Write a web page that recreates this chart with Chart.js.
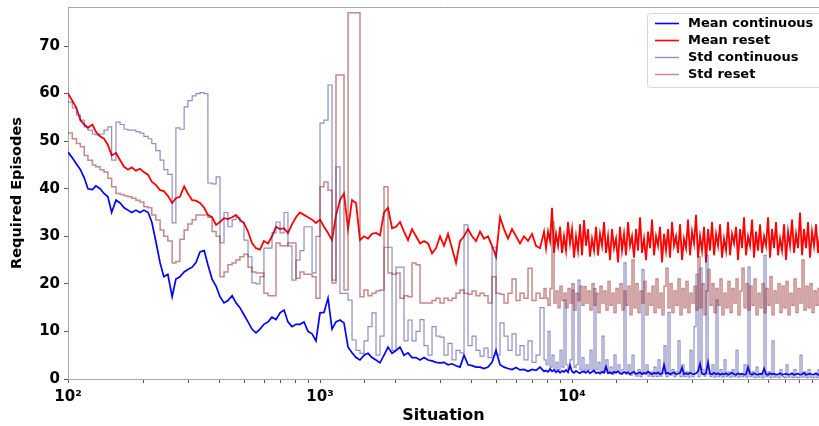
<!DOCTYPE html>
<html>
<head>
<meta charset="utf-8">
<script src="https://cdn.jsdelivr.net/npm/chart.js@4/dist/chart.umd.min.js"></script>
<style>
  html, body { margin: 0; padding: 0; background: #fff; }
  #wrap { width: 819px; height: 426px; }
</style>
</head>
<body>
<div id="wrap"><canvas id="chart" width="819" height="426"></canvas></div>
<script>
// Situation values (log-spaced sample positions)
const situations = [
  100, 104, 108, 112, 116, 120, 125, 129, 134, 139,
  144, 149, 155, 161, 167, 173, 179, 186, 193, 200,
  208, 215, 223, 232, 240, 249, 259, 268, 278, 289,
  299, 311, 322, 334, 347, 359, 373, 387, 401, 416,
  431, 448, 464, 481, 499, 518, 537, 557, 578, 599,
  622, 645, 669, 694, 720, 746, 774, 803, 833, 864,
  896, 930, 964,
  1000, 1037, 1076, 1116, 1157, 1200, 1245, 1292, 1340, 1390,
  1441, 1495, 1550, 1608, 1668, 1730, 1795, 1861, 1931, 2003,
  2077, 2154, 2235, 2318, 2404, 2494, 2586, 2683, 2783, 2886,
  2994, 3105, 3221, 3341, 3465, 3594, 3728, 3866, 4011, 4160,
  4315, 4475, 4642, 4814, 4994, 5180, 5372, 5572, 5780, 5995,
  6218, 6450, 6690, 6939, 7197, 7465, 7743,
  7886, 8031, 8179, 8330, 8484, 8640, 8799, 8962, 9127, 9295,
  9466, 9641, 9819, 10000, 10184, 10372, 10563, 10758, 10956, 11158,
  11364, 11573, 11786, 12004, 12225, 12450, 12680, 12915, 13153, 13395,
  13642, 13895, 14151, 14411, 14677, 14947, 15223, 15504, 15790, 16081,
  16378, 16681, 16988, 17300, 17619, 17945, 18276, 18612, 18955, 19307,
  19663, 20025, 20394, 20771, 21154, 21544, 21941, 22346, 22758, 23178,
  23605, 24041, 24484, 24936, 25396, 25864, 26341, 26827, 27322, 27826,
  28339, 28862, 29394, 29936, 30488, 31050, 31623, 32207, 32800, 33405,
  34021, 34650, 35289, 35938, 36601, 37276, 37964, 38664, 39377, 40105,
  40844, 41596, 42364, 43146, 43941, 44752, 45577, 46416, 47272, 48143,
  49031, 49936, 50856, 51795, 52750, 53723, 54714, 55723, 56750, 57797,
  58863, 59948, 61054, 62180, 63326, 64495, 65684, 66896, 68130, 69386,
  70666, 71969, 73296, 74648, 76025, 77426, 78854, 80309, 81790, 83299,
  84835, 86400, 87993, 89615, 91268, 92951, 94665, 96411
];

const meanContinuous = [
  47.7, 46.5, 45.2, 44.0, 42.3, 40.0, 39.8, 40.6, 40.0, 39.0,
  38.3, 35.0, 37.6, 37.0, 36.0, 35.5, 35.0, 35.5, 35.0, 35.5,
  35.0, 33.0, 29.0, 24.4, 21.5, 22.0, 17.3, 21.0, 21.5, 22.5,
  23.0, 23.5, 24.5, 26.7, 27.0, 24.0, 21.0, 19.5, 17.3, 16.0,
  16.5, 17.5, 16.0, 15.0, 13.5, 12.0, 10.5, 9.7, 10.5, 11.5,
  12.0, 13.0, 12.5, 13.9, 14.5, 12.0, 11.0, 11.5, 11.5, 12.0,
  10.0, 9.5, 8.0, 13.9, 14.0, 17.0, 10.5, 12.0, 12.4, 11.8,
  6.7, 5.5, 4.5, 4.0, 5.0, 5.4, 4.5, 4.0, 3.4, 5.0,
  6.7, 5.4, 6.0, 6.7, 5.0, 5.5, 4.5, 4.5, 4.0, 4.5,
  4.0, 3.8, 3.5, 3.4, 3.5, 3.0, 3.2, 2.8, 2.5, 5.0,
  3.0, 2.8, 2.5, 2.5, 2.2, 2.5, 3.5, 6.0, 3.0, 2.5,
  2.2, 2.0, 2.4, 1.9, 2.0, 1.6, 2.0, 1.8, 2.5, 1.6,
  1.8, 1.5, 2.1, 1.6, 1.9, 1.4, 1.8, 1.3, 1.7, 1.5,
  1.9, 1.4, 2.9, 1.6, 1.3, 1.7, 1.4, 1.2, 1.6, 1.5,
  1.3, 1.7, 1.2, 1.5, 1.8, 1.2, 1.4, 1.1, 1.5, 1.3,
  2.6, 1.2, 1.4, 1.1, 1.5, 1.3, 1.6, 1.2, 1.1, 1.5,
  1.2, 1.4, 1.0, 1.3, 1.5, 1.1, 1.2, 1.4, 1.0, 1.3,
  1.1, 1.6, 1.2, 1.0, 1.3, 1.1, 1.4, 1.0, 1.2, 3.0,
  1.1, 1.3, 1.0, 1.2, 1.4, 1.0, 1.1, 1.3, 2.4, 1.0,
  1.2, 1.0, 1.3, 1.1, 1.0, 1.2, 1.6, 3.2, 1.1, 1.0,
  1.2, 3.5, 1.1, 1.0, 1.3, 1.0, 1.2, 0.9, 1.1, 1.0,
  1.2, 0.9, 1.1, 1.3, 1.0, 0.9, 1.2, 1.0, 1.1, 0.9,
  1.0, 2.5, 1.1, 0.9, 1.2, 1.0, 0.9, 1.1, 1.0, 2.2,
  1.0, 0.9, 1.2, 1.0, 1.1, 0.9, 1.0, 1.2, 0.9, 1.0,
  1.1, 0.9, 1.0, 1.2, 0.9, 1.0, 1.1, 0.9, 1.0, 1.3,
  0.9, 1.0, 1.1, 0.9, 1.0, 1.2, 0.9, 1.0
];

const meanReset = [
  60.0, 58.5, 57.0, 54.4, 53.5, 52.8, 53.5, 52.0, 51.0, 50.5,
  49.2, 47.0, 47.5, 46.0, 44.6, 44.0, 44.5, 43.8, 44.2, 43.5,
  42.9, 41.5, 40.8, 39.7, 39.5, 38.5, 37.0, 38.0, 38.3, 40.5,
  39.0, 37.6, 37.5, 37.0, 36.0, 34.5, 34.0, 32.4, 33.0, 33.8,
  33.6, 34.0, 34.5, 33.5, 32.8, 31.0, 28.6, 27.5, 27.2, 29.0,
  28.5, 30.0, 32.0, 31.5, 31.7, 30.7, 32.5, 34.0, 35.0, 34.5,
  34.0, 33.5, 32.8, 33.5, 32.0, 30.7, 29.2, 34.4, 37.6, 39.0,
  31.5, 37.6, 37.0, 29.2, 30.0, 29.5, 30.5, 30.7, 30.2, 35.0,
  36.0, 31.7, 32.0, 33.0, 31.0, 29.2, 31.5, 30.0, 28.5, 29.0,
  28.5, 26.4, 27.5, 30.0, 28.0, 30.5, 27.5, 24.4, 29.0, 30.0,
  31.5, 30.0, 29.0, 31.0, 29.5, 30.0, 28.0, 25.7, 34.0, 31.5,
  29.5, 31.5, 30.0, 28.5, 30.0, 29.0, 30.5, 28.0, 27.5, 31.0,
  27.5, 31.0, 29.0, 36.0, 26.5, 30.5, 28.0, 32.0, 26.5, 30.0,
  27.0, 33.0, 28.5, 31.5, 25.5, 30.0, 27.0, 32.5, 26.0, 33.4,
  28.0, 31.5, 25.7, 29.5, 27.0, 32.0, 26.0, 30.5, 28.0, 33.0,
  26.5, 30.0, 25.0, 31.5, 27.5, 29.5, 24.5, 32.0, 27.0, 30.5,
  26.0, 33.0, 28.0, 30.0, 25.5, 31.5, 27.0, 34.0, 26.5, 29.5,
  25.0, 31.0, 27.5, 33.5, 26.0, 30.0, 28.0, 32.0, 24.5, 30.5,
  27.0, 31.5, 25.5, 33.0, 28.0, 30.0, 26.5, 32.5, 25.0, 29.5,
  27.5, 33.5, 26.0, 31.0, 28.5, 34.5, 25.5, 30.0, 27.0, 32.0,
  24.5, 31.5, 27.0, 33.0, 26.0, 30.5, 28.0, 32.5, 25.5, 29.5,
  27.0, 33.0, 26.0, 30.5, 28.5, 32.0, 25.0, 31.5, 27.5, 34.0,
  26.0, 30.0, 28.0, 33.5, 25.5, 31.0, 27.0, 32.5, 26.5, 30.0,
  28.0, 34.0, 25.5, 31.5, 27.5, 33.0, 26.0, 29.5, 27.0, 32.5,
  25.0, 31.0, 28.0, 33.5, 26.5, 30.5, 27.5, 35.0, 26.0, 31.5,
  27.5, 33.0, 25.5, 31.0, 28.0, 32.5, 26.5, 30.5
];

const stdContinuous = [
  58.2, 57.0, 55.5, 54.4, 53.0, 52.3, 51.5, 51.3, 51.5, 52.3,
  53.0, 46.0, 54.0, 53.5, 52.5, 52.3, 52.3, 52.0, 51.7, 51.0,
  50.5, 49.5, 48.0, 46.0, 44.0, 43.0, 32.8, 52.8, 52.5, 57.2,
  58.5, 59.5, 60.0, 60.2, 60.0, 41.2, 41.0, 42.5, 28.6, 35.0,
  32.0, 33.5, 34.0, 33.0, 29.2, 25.7, 20.2, 20.0, 21.5, 27.5,
  27.5, 30.7, 33.0, 30.7, 35.0, 28.0, 20.8, 25.0, 27.0, 32.0,
  32.0, 22.3, 30.0, 53.8, 54.4, 61.8, 20.8, 44.6, 18.0, 18.0,
  16.6, 8.2, 6.0, 5.4, 8.0, 11.0, 13.9, 5.0, 9.0, 27.7,
  27.7, 6.0, 23.5, 23.5, 8.0, 12.4, 8.0, 10.0, 12.5, 7.0,
  5.0, 11.0, 9.0, 8.8, 5.0, 7.5, 4.0, 6.0, 5.5, 32.4,
  7.0, 9.0, 6.0, 4.8, 6.5, 4.5, 27.7, 5.0, 11.8, 9.0,
  6.0, 9.5, 5.0, 7.0, 4.0, 8.0, 3.5, 5.0, 15.0, 4.0,
  3.0, 10.0, 2.5, 5.0, 2.0, 3.5, 2.0, 6.0, 2.5, 16.6,
  3.0, 2.0, 4.0, 18.7, 2.5, 3.0, 20.8, 2.0, 4.5, 1.8,
  3.0, 2.0, 6.0, 1.5, 19.0, 2.0, 3.5, 1.5, 9.0, 1.5,
  4.0, 1.2, 2.5, 1.0, 5.0, 1.5, 3.0, 1.0, 2.0, 24.4,
  1.0, 3.0, 0.8, 5.0, 1.0, 0.6, 2.0, 0.5, 23.0, 1.0,
  3.0, 0.6, 1.5, 0.5, 2.5, 0.5, 4.0, 0.6, 1.2, 7.0,
  0.5, 14.0, 0.8, 2.0, 0.5, 1.5, 8.0, 0.5, 3.0, 0.5,
  1.5, 0.4, 6.0, 0.5, 11.0, 22.0, 0.5, 23.3, 2.0, 0.6,
  26.0, 1.0, 0.5, 3.0, 0.4, 16.6, 0.5, 2.0, 0.4, 4.0,
  0.5, 1.5, 0.4, 2.0, 0.5, 6.0, 0.4, 1.0, 0.5, 3.0,
  0.4, 23.5, 0.5, 1.5, 0.3, 2.5, 0.4, 1.0, 0.3, 26.0,
  0.5, 1.5, 0.3, 8.0, 0.4, 1.0, 0.3, 2.0, 0.5, 0.3,
  3.0, 0.4, 1.0, 0.3, 2.0, 0.4, 0.3, 5.0, 0.4, 1.5,
  0.3, 2.0, 0.4, 0.3, 1.0, 0.3, 2.0, 0.3
];

const stdReset = [
  51.7, 50.5, 49.5, 48.8, 47.0, 46.0, 45.0, 44.6, 44.0, 43.5,
  42.2, 40.4, 39.0, 38.8, 38.5, 38.3, 38.0, 37.6, 37.2, 36.2,
  36.0, 34.5, 33.4, 31.3, 30.0, 29.0, 24.4, 24.7, 29.4, 31.3,
  32.6, 33.5, 34.5, 34.5, 34.5, 34.0, 31.0, 30.0, 21.5, 22.5,
  24.0, 24.4, 25.0, 25.7, 26.2, 23.5, 22.5, 22.3, 22.3, 18.0,
  17.5, 17.5, 28.6, 28.0, 28.0, 28.6, 28.6, 21.2, 22.5, 22.0,
  22.0, 21.5, 17.0, 40.4, 41.4, 39.7, 20.2, 63.9, 63.9, 18.7,
  77.0, 77.0, 77.0, 17.3, 18.7, 17.5, 18.0, 18.5, 18.7, 40.4,
  22.3, 22.0, 22.3, 17.0, 17.5, 17.3, 24.4, 24.0, 16.0, 16.0,
  16.0, 16.5, 17.0, 16.0, 17.0, 16.5, 17.0, 18.0, 18.7, 18.0,
  17.8, 18.5, 17.5, 18.0, 17.5, 16.0, 21.5, 18.0, 17.8, 16.0,
  18.0, 21.0, 16.5, 18.0, 17.0, 23.3, 16.5, 18.0, 17.0, 19.0,
  17.0, 15.5, 19.0, 33.0, 16.0, 18.5, 15.0, 19.5, 16.5, 18.0,
  15.0, 19.0, 16.0, 20.0, 14.5, 18.0, 16.5, 19.5, 15.5, 19.4,
  16.0, 18.5, 14.5, 20.0, 15.5, 18.0, 14.0, 19.5, 16.0, 18.5,
  14.5, 20.5, 15.5, 18.0, 14.0, 19.0, 16.0, 20.0, 14.5, 18.5,
  15.5, 19.5, 13.5, 25.0, 15.0, 20.0, 14.0, 18.5, 16.0, 20.5,
  13.5, 18.0, 15.5, 19.5, 14.0, 21.0, 15.0, 18.0, 13.5, 19.5,
  23.3, 15.0, 20.0, 14.0, 18.5, 15.5, 21.0, 13.5, 19.0, 15.0,
  20.5, 14.0, 18.0, 16.0, 19.5, 14.5, 25.7, 15.0, 20.0, 13.5,
  18.5, 23.0, 15.5, 20.0, 14.0, 19.0, 15.5, 21.0, 13.5, 18.0,
  15.0, 20.5, 14.0, 19.0, 16.0, 21.0, 13.5, 18.5, 23.3, 15.0,
  20.0, 14.5, 19.5, 15.5, 21.0, 13.5, 18.0, 15.0, 20.0, 14.0,
  19.0, 15.5, 21.5, 13.5, 18.5, 16.0, 20.0, 14.0, 19.5, 15.0,
  20.5, 13.5, 18.0, 15.5, 21.0, 14.0, 19.0, 16.0, 25.0, 14.5,
  19.5, 15.0, 20.0, 14.0, 18.5, 15.5, 19.0, 16.0
];

const seriesLabels = ["Mean continuous", "Mean reset", "Std continuous", "Std reset"];
const yTicks = [0, 10, 20, 30, 40, 50, 60, 70];

const FONT = "'DejaVu Sans', 'Liberation Sans', sans-serif";
const SPINE = "#a8a8a8";
const SUP = { 2: "\u00b2", 3: "\u00b3", 4: "\u2074" };

const points = (vals) => situations.map((s, i) => ({ x: s, y: vals[i] }));

// matplotlib-style framed legend in the upper-right corner, plus the top spine
const boxLegend = {
  id: "boxLegend",
  afterDraw(chart) {
    const { ctx, chartArea } = chart;
    ctx.save();
    ctx.strokeStyle = SPINE;
    ctx.lineWidth = 1;
    ctx.beginPath();
    ctx.moveTo(chartArea.left, chartArea.top + 0.5);
    ctx.lineTo(chartArea.right, chartArea.top + 0.5);
    ctx.stroke();

    const x0 = chartArea.right - 172, y0 = chartArea.top + 6;
    ctx.fillStyle = "rgba(255,255,255,0.85)";
    ctx.strokeStyle = "#d6d6d6";
    ctx.beginPath();
    ctx.roundRect(x0 + 0.5, y0 + 0.5, 190, 74, 3);
    ctx.fill();
    ctx.stroke();

    ctx.font = "bold 13px " + FONT;
    ctx.textBaseline = "middle";
    chart.data.datasets.forEach((ds, i) => {
      const y = y0 + 10.5 + i * 17;
      ctx.strokeStyle = ds.borderColor;
      ctx.lineWidth = i < 2 ? 1.6 : 1.4;
      ctx.beginPath();
      ctx.moveTo(x0 + 8, y);
      ctx.lineTo(x0 + 32, y);
      ctx.stroke();
      ctx.fillStyle = "#000";
      ctx.fillText(ds.label, x0 + 41, y + 0.5);
    });
    ctx.restore();
  },
};

new Chart(document.getElementById("chart"), {
  type: "line",
  data: {
    datasets: [
      { label: seriesLabels[0], data: points(meanContinuous), borderColor: "#0000ff", borderWidth: 1.7, order: 3 },
      { label: seriesLabels[1], data: points(meanReset), borderColor: "#ff0000", borderWidth: 1.8, order: 2 },
      { label: seriesLabels[2], data: points(stdContinuous), borderColor: "rgba(30,30,140,0.5)", borderWidth: 1.2, stepped: true, order: 1 },
      { label: seriesLabels[3], data: points(stdReset), borderColor: "rgba(150,40,40,0.55)", borderWidth: 1.5, stepped: true, order: 0 },
    ],
  },
  options: {
    responsive: false,
    animation: false,
    events: [],
    layout: { padding: { top: 7, right: 0, left: 0, bottom: 0 } },
    elements: { point: { radius: 0 }, line: { tension: 0 } },
    plugins: { legend: { display: false }, tooltip: { enabled: false } },
    scales: {
      x: {
        type: "logarithmic",
        min: 100,
        max: 95500,
        afterFit: (s) => { s.height = 47; s.paddingLeft = 0; s.paddingRight = 0; },
        border: { color: SPINE, width: 1 },
        grid: { drawOnChartArea: false, tickLength: 4, tickColor: "#555" },
        ticks: {
          autoSkip: false,
          maxRotation: 0,
          padding: 5,
          color: "#000",
          font: { family: FONT, size: 15, weight: "bold" },
          callback: (v) => {
            const e = Math.round(Math.log10(v));
            return Math.abs(Math.pow(10, e) - v) < 1e-6 ? "10" + SUP[e] : "";
          },
        },
        title: {
          display: true,
          text: "Situation",
          color: "#000",
          font: { family: FONT, size: 16, weight: "bold" },
          padding: { top: 0, bottom: 1 },
        },
      },
      y: {
        min: 0,
        max: 78.2,
        afterFit: (s) => { s.width = 68; s.paddingTop = 0; s.paddingBottom = 0; },
        afterBuildTicks: (s) => { s.ticks = yTicks.map((v) => ({ value: v })); },
        border: { color: SPINE, width: 1 },
        grid: { drawOnChartArea: false, tickLength: 4, tickColor: "#555" },
        ticks: {
          padding: 4,
          color: "#000",
          font: { family: FONT, size: 15, weight: "bold" },
        },
        title: {
          display: true,
          text: "Required Episodes",
          color: "#000",
          font: { family: FONT, size: 14.5, weight: "bold" },
          padding: { top: 9, bottom: 0 },
        },
      },
    },
  },
  plugins: [boxLegend],
});
</script>
</body>
</html>
